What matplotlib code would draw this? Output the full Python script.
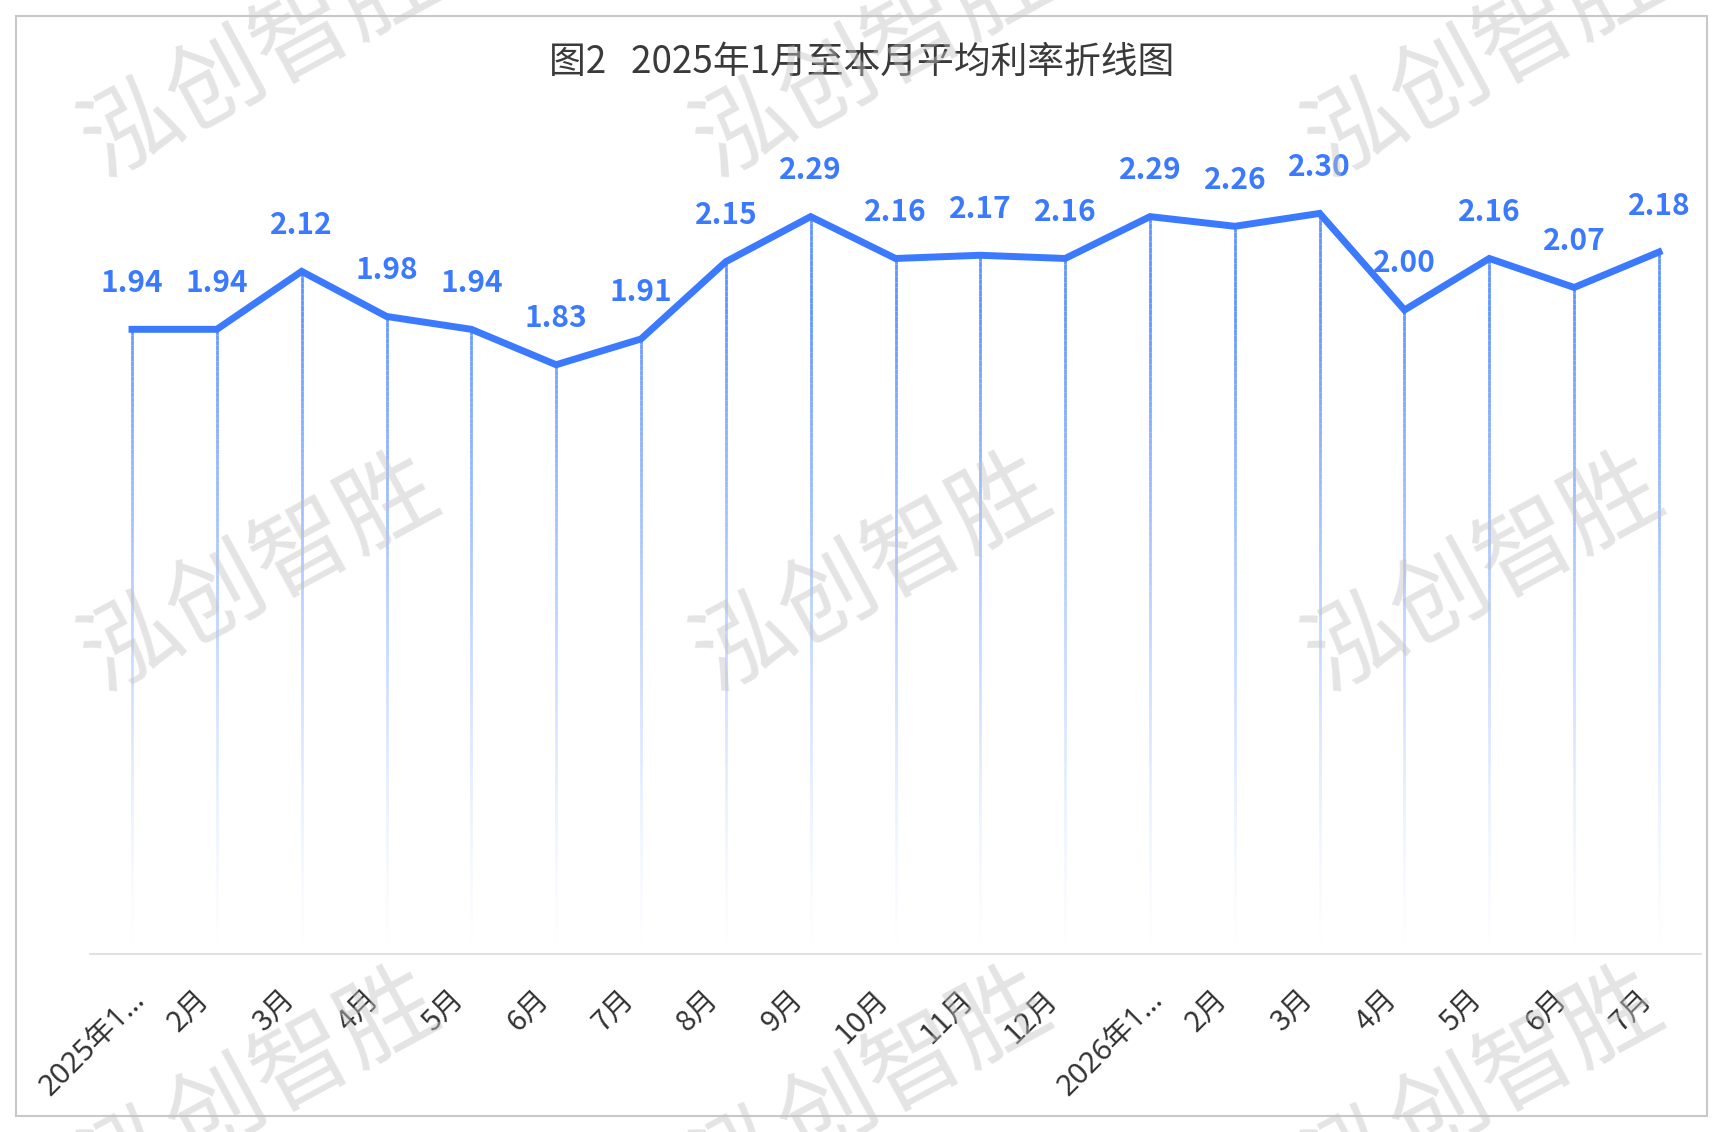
import matplotlib
matplotlib.use("Agg")
import matplotlib.pyplot as plt
import numpy as np
from matplotlib.collections import LineCollection
from matplotlib.patches import Rectangle
from matplotlib.colors import to_rgb
from matplotlib.transforms import ScaledTranslation

plt.rcParams["font.family"] = ["Noto Sans CJK SC", "DejaVu Sans"]

# data
months = ["2025年1…", "2月", "3月", "4月", "5月", "6月", "7月", "8月", "9月",
          "10月", "11月", "12月", "2026年1…", "2月", "3月", "4月", "5月", "6月", "7月"]
rates = [1.94, 1.94, 2.12, 1.98, 1.94, 1.83, 1.91, 2.15, 2.29,
         2.16, 2.17, 2.16, 2.29, 2.26, 2.30, 2.00, 2.16, 2.07, 2.18]
title = "图2   2025年1月至本月平均利率折线图"
watermark = "泓创智胜"

blue = "#3b7aff"
W, H = 1723, 1132

fig = plt.figure(figsize=(W / 100, H / 100), dpi=100)

# outer frame
fig.patches.append(Rectangle((16 / W, 16 / H), (1707 - 16) / W, (1116 - 16) / H,
                             transform=fig.transFigure, fill=False,
                             edgecolor="#c8c8c8", linewidth=1.5, zorder=-4))

fig.text(0.5, 1 - 62 / H, title, fontsize=26.5, color="#3a3a3a",
         ha="center", va="center")

ax = fig.add_axes([89.6 / W, (H - 954) / H, (1701.4 - 89.6) / W, (954 - 116.8) / H])
ax.patch.set_alpha(0)
ax.set_xlim(-0.5, len(months) - 0.5)
ax.set_ylim(0, 2.6)

x = np.arange(len(months))

# drop lines with a fade towards the axis
segs, cols = [], []
rgb = to_rgb(blue)
n = 120
for xi, v in zip(x, rates):
    ys = np.linspace(0, v, n + 1)
    for k in range(n):
        segs.append([(xi, ys[k]), (xi, ys[k + 1])])
        mid = 0.5 * (ys[k] + ys[k + 1])
        a = 0.8 * min(1.0, (mid / 2.0) ** 1.4)
        cols.append((*rgb, a))
ax.add_collection(LineCollection(segs, colors=cols, linewidths=2.0,
                                 capstyle="butt", zorder=2))

ax.plot(x, rates, color=blue, linewidth=5.0, solid_joinstyle="miter", zorder=3)

for xi, v in zip(x, rates):
    ax.annotate(f"{v:.2f}", (xi, v), xytext=(0, 27), textcoords="offset points",
                ha="center", va="baseline", fontsize=21.5, fontweight="bold",
                color=blue, zorder=4)

for s in ["top", "right", "left"]:
    ax.spines[s].set_visible(False)
ax.spines["bottom"].set_color("#dedede")
ax.spines["bottom"].set_linewidth(1.3)
ax.set_yticks([])
ax.set_xticks(x)
ax.set_xticklabels(months, rotation=45, ha="right", va="center",
                   rotation_mode="anchor", fontsize=21, color="#333333")
ax.tick_params(axis="x", length=0, pad=28)
shift = ScaledTranslation(-12 / 100, -2 / 100, fig.dpi_scale_trans)
long_shift = ScaledTranslation(9 / 100, -2 / 100, fig.dpi_scale_trans)
for lab in ax.get_xticklabels():
    if "…" in lab.get_text():
        # baseline ellipsis, CJK falls back to Noto Sans CJK
        lab.set_family(["Noto Sans", "Noto Sans CJK SC"])
        lab.set_transform(lab.get_transform() + long_shift)
    else:
        lab.set_transform(lab.get_transform() + shift)

# watermark tiles on top, semi-transparent
wm_x = [260, 872, 1484]
wm_y = [60, 574, 1088]
for wy in wm_y:
    for wx in wm_x:
        fig.text(wx / W, 1 - wy / H, watermark, fontsize=70, color="#c4c4c4",
                 alpha=0.45, rotation=28.5, rotation_mode="anchor",
                 ha="center", va="center", zorder=10)

fig.savefig("out.png", dpi=100)
